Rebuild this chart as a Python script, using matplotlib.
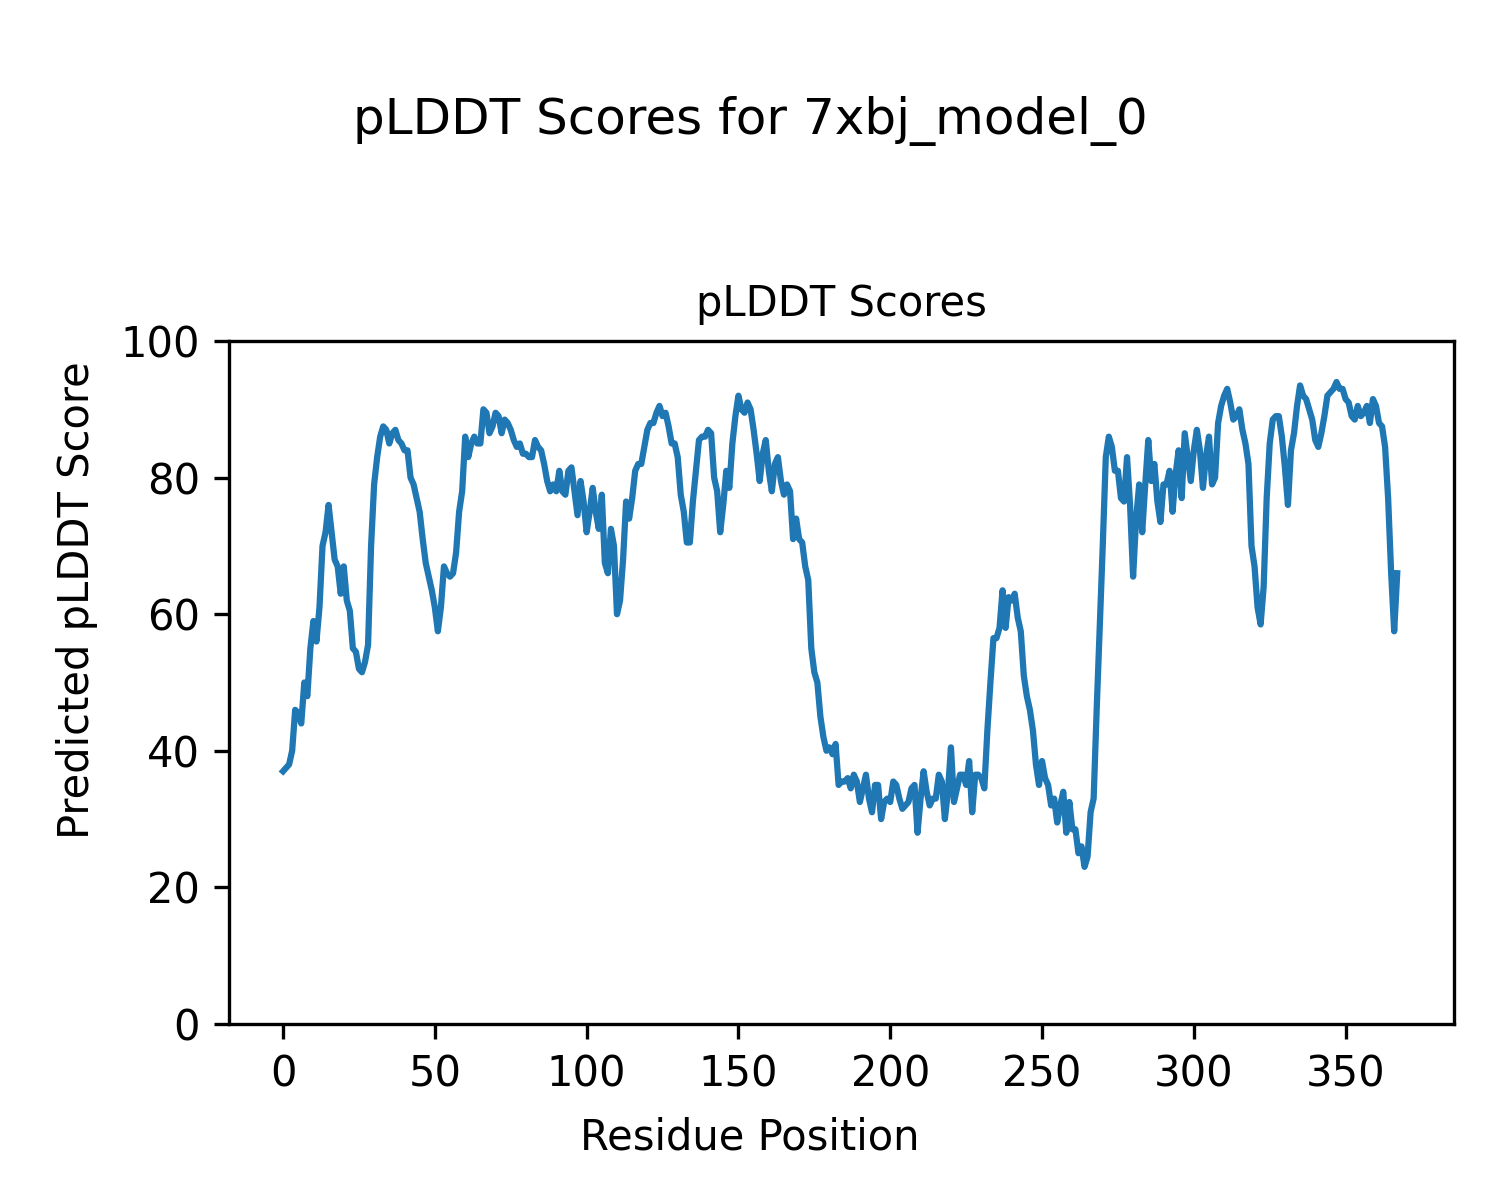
import matplotlib
matplotlib.use("Agg")
import matplotlib.pyplot as plt
import numpy as np

title = "pLDDT Scores for 7xbj_model_0"
plddt = [
    37, 37.5, 38, 40, 46, 45.5, 44, 50, 48, 55,
    59, 56, 61, 70, 72, 76, 72, 68, 67, 63,
    67, 62, 60.5, 55, 54.5, 52, 51.5, 53, 55.5, 70,
    79, 83, 86, 87.5, 87, 85, 86.5, 87, 85.5, 85,
    84, 84, 80, 79, 77, 75, 71, 67.5, 65.5, 63.5,
    61, 57.5, 61, 67, 66, 65.5, 66, 69, 75, 78,
    86, 83, 85, 86, 85, 85, 90, 89.5, 86.5, 87.5,
    89.5, 89, 86.5, 88.5, 88, 87, 85.5, 84.5, 85, 83.5,
    83.5, 83, 83, 85.5, 84.5, 84, 82, 79.5, 78, 79,
    78, 81, 78, 77.5, 81, 81.5, 78, 74.5, 79.5, 76.5,
    72, 75, 78.5, 75, 72.5, 77.5, 67.5, 66, 72.5, 70,
    60, 62, 68, 76.5, 74, 77, 81, 82, 82, 84.5,
    87, 88, 88, 89.5, 90.5, 89, 89.5, 87.5, 85, 85,
    83, 77.5, 75, 70.5, 70.5, 76.5, 81, 85.5, 86, 86,
    87, 86.5, 80, 78, 72, 76, 81, 78.5, 85, 89,
    92, 90, 89.5, 91, 90, 87, 83.5, 79.5, 83.5, 85.5,
    81, 78, 82, 83, 79.5, 77.5, 79, 78, 71, 74,
    71, 70.5, 67, 65, 55, 51.5, 50, 45, 42, 40,
    40.5, 39.5, 41, 35, 35.5, 35.5, 36, 34.5, 36.5, 35.5,
    32.5, 34.5, 36.5, 33, 31, 35, 35, 30, 32.5, 33,
    32.5, 35.5, 35, 33, 31.5, 32, 32.5, 34.5, 35, 28,
    33, 37, 34, 32, 33, 33, 36.5, 35.5, 30, 34,
    40.5, 32.5, 34.5, 36.5, 36.5, 35, 38.5, 31, 36.5, 36.5,
    36, 34.5, 43, 50, 56.5, 56.5, 58, 63.5, 58, 62.5,
    62, 63, 59.5, 57.5, 51, 48, 46, 43, 38, 35,
    38.5, 36, 35, 32, 33, 29.5, 32, 34, 28, 32.5,
    28.5, 28.5, 25, 26, 23, 24.5, 31, 33, 46, 58,
    70, 83, 86, 84.5, 81, 81, 77, 76.5, 83, 76,
    65.5, 74, 79, 72, 79, 85.5, 79.5, 82, 76.5, 73.5,
    79, 79, 81, 75, 80.5, 84, 77, 86.5, 83, 79.5,
    84, 87, 84, 78.5, 83, 86, 79, 80, 88, 90.5,
    92, 93, 91, 88.5, 89, 90, 87, 85, 82, 70,
    67, 61, 58.5, 64, 77, 85, 88.5, 89, 89, 86,
    81.5, 76, 84, 86.5, 90.5, 93.5, 92, 91.5, 90, 88.5,
    85.5, 84.5, 86.5, 89, 92, 92.5, 93, 94, 93, 93,
    91.5, 91, 89, 88.5, 90.5, 89, 89.5, 90.5, 88, 91.5,
    90.5, 88, 87.5, 84.5, 77, 66, 57.5, 66,
]
positions = np.arange(len(plddt))

fig = plt.figure(figsize=(5, 4), dpi=300)
ax = fig.add_axes([229 / 1500, 0.1467, 1225 / 1500, 0.5691])
ax.plot(positions, plddt, color="#1f77b4", linewidth=1.5)
ax.set_xlim(-17.8, 385.7)
ax.set_ylim(0, 100)
ax.set_title("pLDDT Scores", fontsize=10)
fig.text(0.5, 1 - 1138 / 1200, "Residue Position", fontsize=10,
         ha="center", va="center")
fig.text(77 / 1500, 0.5, "Predicted pLDDT Score", fontsize=10,
         ha="center", va="center", rotation=90)
fig.suptitle(title, fontsize=12, y=0.92)
fig.savefig("out.png", dpi=300)
